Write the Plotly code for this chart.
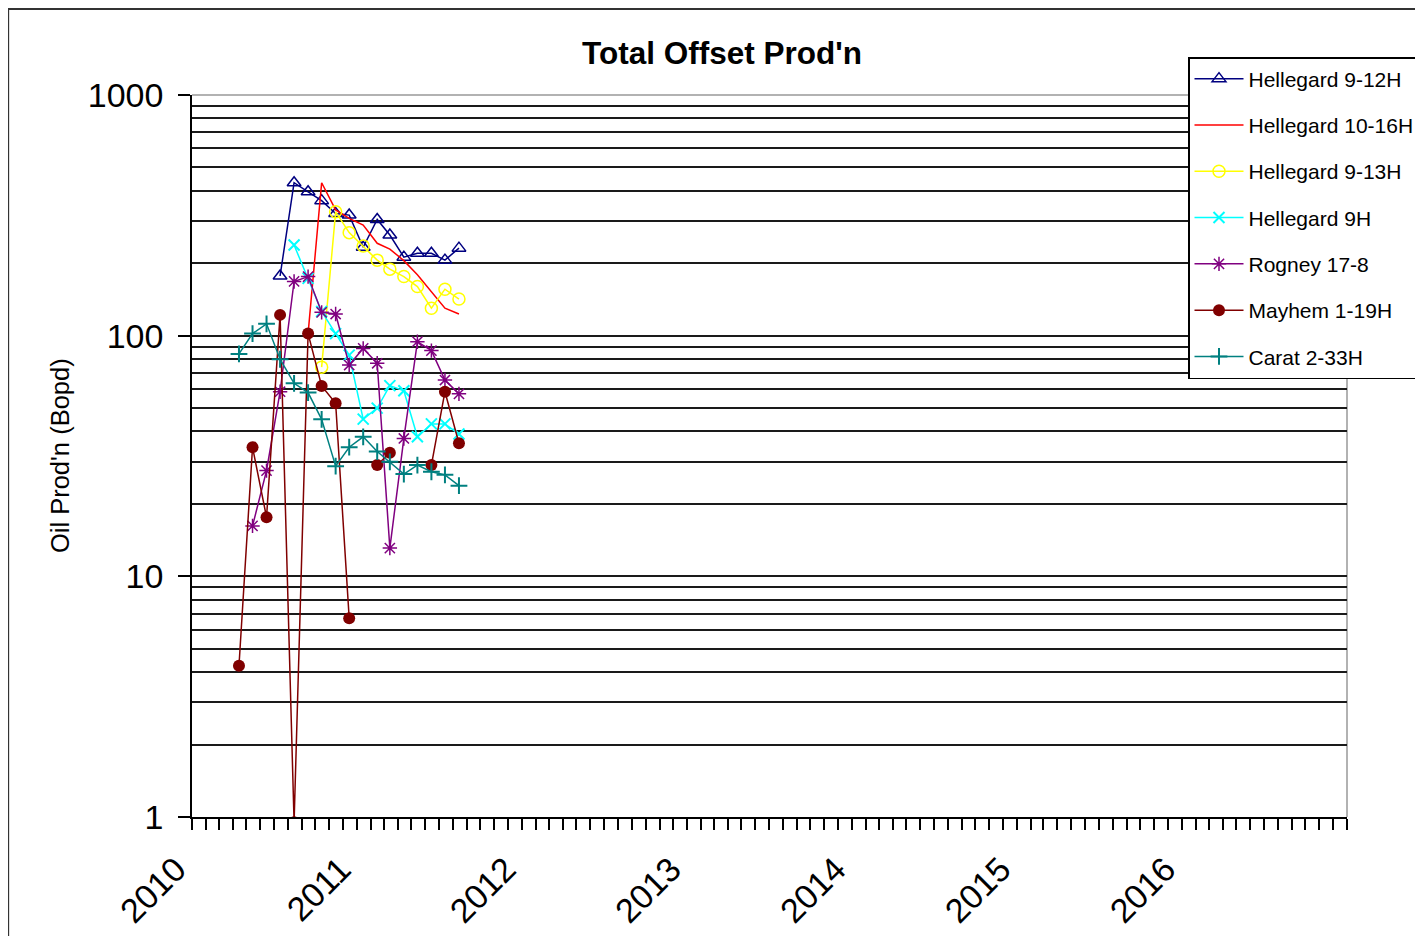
import plotly.graph_objects as go

months = ["2010-04-15", "2010-05-15", "2010-06-15", "2010-07-15", "2010-08-15",
          "2010-09-15", "2010-10-15", "2010-11-15", "2010-12-15", "2011-01-15",
          "2011-02-15", "2011-03-15", "2011-04-15", "2011-05-15", "2011-06-15",
          "2011-07-15", "2011-08-15"]

hellegard_9_12h = [None, None, None, 177, 432, 396, 364, 322, 317, 233, 304, 262, 212, 220, 220, 206, 231]
hellegard_10_16h = [None, None, None, None, None, 102, 432, 333, 307, 288, 242, 229, 205, 179, 153, 130, 123]
hellegard_9_13h = [None, None, None, None, None, None, 74, 327, 268, 236, 206, 189, 176, 160, 130, 156, 142]
hellegard_9h = [None, None, None, None, 238, 173, 126, 102, 83, 45, 50, 62, 59, 38, 43, 43, 39]
rogney_17_8 = [None, 16.2, 27.5, 58.5, 168, 176, 125, 123, 75.5, 88.5, 76.8, 13.1, 37.4, 94.4, 86.7, 65.4, 57.3]
mayhem_1_19h = [4.25, 34.4, 17.6, 122, 0.95, 102, 61.8, 52.4, 6.7, None, 29, 32.6, None, None, 29, 58.5, 35.7]
carat_2_33h = [84, 102, 112, 79.8, 63.4, 58, 44.9, 28.7, 34.4, 38, 33, 29.9, 26.6, 29, 27.2, 26.4, 23.8]

year_ticks = ["2010-01-01", "2011-01-01", "2012-01-01", "2013-01-01", "2014-01-01", "2015-01-01", "2016-01-01"]
year_labels = ["2010", "2011", "2012", "2013", "2014", "2015", "2016"]
y_ticks = [1, 10, 100, 1000]
y_labels = ["1", "10", "100", "1000"]
y_minor = [m * 10 ** k for k in range(3) for m in range(2, 10)]

FONT = "Liberation Sans, Arial, sans-serif"

series = [
    ("Hellegard 9-12H", hellegard_9_12h, "#000080", dict(symbol="triangle-up-open", size=12, line=dict(width=1.5, color="#000080")), "lines+markers"),
    ("Hellegard 10-16H", hellegard_10_16h, "#FF0000", None, "lines"),
    ("Hellegard 9-13H", hellegard_9_13h, "#FFFF00", dict(symbol="circle-open", size=12, line=dict(width=1.5, color="#FFFF00")), "lines+markers"),
    ("Hellegard 9H", hellegard_9h, "#00FFFF", dict(symbol="x-thin-open", size=11, line=dict(width=2, color="#00FFFF")), "lines+markers"),
    ("Rogney 17-8", rogney_17_8, "#800080", dict(symbol="asterisk-open", size=12, line=dict(width=1.5, color="#800080")), "lines+markers"),
    ("Mayhem 1-19H", mayhem_1_19h, "#800000", dict(symbol="circle", size=12, color="#800000"), "lines+markers"),
    ("Carat 2-33H", carat_2_33h, "#008080", dict(symbol="cross-thin-open", size=12, line=dict(width=2, color="#008080")), "lines+markers"),
]

fig = go.Figure()
for name, vals, color, marker, mode in series:
    kw = dict(x=months, y=vals, name=name, mode=mode,
              line=dict(color=color, width=1.5), connectgaps=False,
              legendgroup=name)
    if marker:
        kw["marker"] = marker
    fig.add_trace(go.Scatter(**kw))

fig.update_layout(
    width=1423, height=936,
    margin=dict(l=184, r=83, t=87, b=127),
    paper_bgcolor="white", plot_bgcolor="white",
    font=dict(family=FONT, color="black"),
    showlegend=True,
    legend=dict(x=(1188 - 192) / 1156, y=(817 - 57) / 722, xanchor="left", yanchor="top",
                bgcolor="white", bordercolor="black", borderwidth=1.5,
                font=dict(size=21, family=FONT, color="black"),
                tracegroupgap=16, itemwidth=49),
    xaxis=dict(type="date", range=["2010-01-01", "2017-01-01"],
               tickmode="array", tickvals=year_ticks, ticktext=year_labels,
               tickangle=-45, tickfont=dict(size=34, family=FONT, color="black"),
               ticks="outside", ticklen=11, tickwidth=1.5, tickcolor="black",
               ticklabelstandoff=6, ticklabelshift=-16,
               showgrid=False, zeroline=False,
               showline=True, linecolor="black", linewidth=1.5,
               minor=dict(dtick="M1", tick0="2010-01-01", ticks="outside", ticklen=11,
                          tickwidth=1.5, tickcolor="black", showgrid=False)),
    yaxis=dict(type="log", range=[0, 3],
               tickmode="array", tickvals=y_ticks, ticktext=y_labels,
               tickfont=dict(size=34, family=FONT, color="black"),
               ticks="outside", ticklen=12, tickwidth=1.5, tickcolor="black",
               showgrid=True, gridcolor="#1a1a1a", gridwidth=1.5,
               zeroline=False, showline=True, linecolor="black", linewidth=1.5,
               ticklabelstandoff=8,
               minor=dict(tickmode="array", tickvals=y_minor, ticks="",
                          showgrid=True, gridcolor="#1a1a1a", gridwidth=1.5)),
    shapes=[
        dict(type="line", xref="paper", yref="paper", x0=0, x1=1, y0=1, y1=1,
             line=dict(color="#999999", width=1.5), layer="above"),
        dict(type="line", xref="paper", yref="paper", x0=1, x1=1, y0=0, y1=1,
             line=dict(color="#999999", width=1.5), layer="below"),
        dict(type="rect", xref="paper", yref="paper",
             x0=(8 - 192) / 1156, x1=1.08, y0=-0.2, y1=(817 - 9) / 722,
             line=dict(color="#333333", width=2), layer="below"),
    ],
    annotations=[
        dict(text="<b>Total Offset Prod'n</b>", xref="paper", yref="paper",
             x=(722 - 192) / 1156, y=(817 - 53) / 722, xanchor="center", yanchor="middle",
             showarrow=False, font=dict(size=31.5, family=FONT, color="black")),
        dict(text="Oil Prod'n (Bopd)", xref="paper", yref="paper",
             x=(60 - 192) / 1156, y=0.5, xanchor="center", yanchor="middle",
             textangle=-90, showarrow=False, font=dict(size=25.5, family=FONT, color="black")),
    ],
)

fig.write_html("out.html")
